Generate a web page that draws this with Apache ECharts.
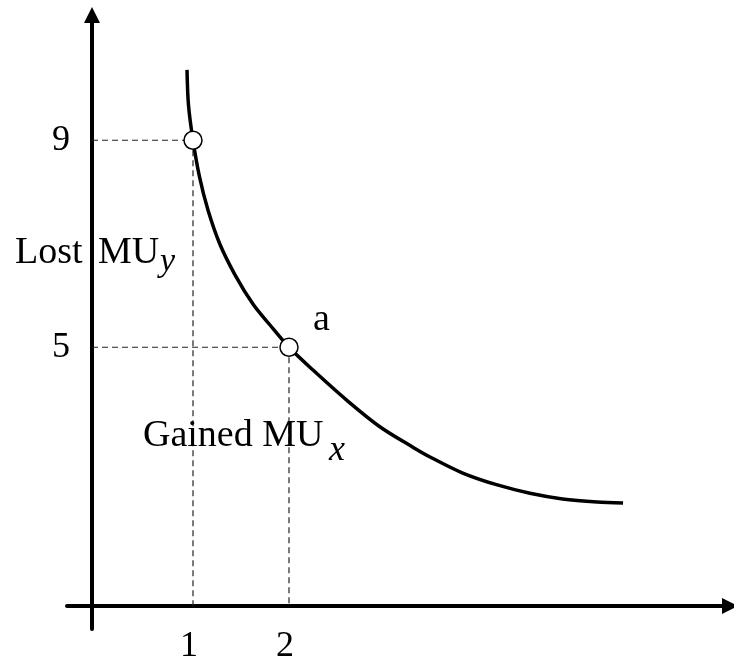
<!DOCTYPE html>
<html>
<head>
<meta charset="utf-8">
<script src="https://cdn.jsdelivr.net/npm/echarts@6/dist/echarts.min.js"></script>
<style>
html,body{margin:0;padding:0;background:#fff;}
#chart{width:734px;height:659px;}
</style>
</head>
<body>
<div id="chart"></div>
<script>
// Indifference-type curve
const curveX = [0.9375, 0.953, 1.0, 1.068, 1.156, 1.276, 1.4375, 1.63, 1.802, 2.0, 2.25, 2.60, 2.95, 3.29, 3.47, 3.81, 4.17, 4.51, 4.85, 5.21, 5.48];
const curveY = [10.36, 9.68, 9.0, 8.29, 7.65, 7.01, 6.40, 5.82, 5.43, 5.0, 4.56, 3.98, 3.46, 3.07, 2.88, 2.57, 2.34, 2.18, 2.07, 2.01, 1.99];
// Highlighted points
const pointX = [1, 2];
const pointY = [9, 5];
// Tick labels
const xTicks = [1, 2];
const yTicks = [5, 9];
// Axis ranges
const xRange = [-0.3125, 6.594];
const yRange = [-0.444, 11.42];
const yAxisCrossX = -0.052;

const FONT = 'Liberation Serif';
const chart = echarts.init(document.getElementById('chart'));

const series = [];
series.push({
  type: 'line',
  data: curveX.map((x, i) => [x, curveY[i]]),
  smooth: 0.3,
  showSymbol: false,
  lineStyle: { color: '#000', width: 3.5 },
  z: 3,
  silent: true
});
pointX.forEach((px, i) => {
  const py = pointY[i];
  series.push({
    type: 'line',
    data: [[yAxisCrossX, py], [px, py]],
    showSymbol: false,
    lineStyle: { color: '#222', width: 1.2, type: [6, 4] },
    z: 2,
    silent: true
  });
  series.push({
    type: 'line',
    data: [[px, py], [px, 0]],
    showSymbol: false,
    lineStyle: { color: '#222', width: 1.2, type: [6, 4] },
    z: 2,
    silent: true
  });
});
series.push({
  type: 'scatter',
  data: pointX.map((x, i) => [x, pointY[i]]),
  symbol: 'circle',
  symbolSize: 18,
  itemStyle: { color: '#fff', borderColor: '#000', borderWidth: 1.5, opacity: 1 },
  z: 5,
  silent: true
});

const txt = (text, x, y, size, italic) => ({
  type: 'text',
  x: x, y: y,
  style: {
    text: text,
    font: (italic ? 'italic ' : '') + size + 'px "' + FONT + '"',
    fill: '#000',
    align: 'left',
    verticalAlign: 'middle'
  },
  z: 10
});

chart.setOption({
  animation: false,
  backgroundColor: '#fff',
  grid: { left: 67, right: 4, top: 15, bottom: 30, containLabel: false, outerBoundsMode: 'none' },
  xAxis: {
    type: 'value',
    min: xRange[0], max: xRange[1],
    splitLine: { show: false },
    axisTick: { show: false },
    axisLine: {
      onZero: true,
      lineStyle: { color: '#000', width: 4 },
      symbol: ['none', 'triangle'],
      symbolSize: [16, 16]
    },
    axisLabel: {
      customValues: xTicks,
      fontFamily: FONT, fontSize: 36, color: '#000',
      margin: 0,
      padding: [0, 8, 0, 0]
    }
  },
  yAxis: {
    type: 'value',
    min: yRange[0], max: yRange[1],
    offset: -25,
    splitLine: { show: false },
    axisTick: { show: false },
    axisLine: {
      onZero: false,
      lineStyle: { color: '#000', width: 4 },
      symbol: ['none', 'triangle'],
      symbolSize: [16, 16]
    },
    axisLabel: {
      customValues: yTicks,
      fontFamily: FONT, fontSize: 36, color: '#000',
      margin: 22
    }
  },
  series: series,
  graphic: [
    txt('Lost', 15, 253, 38),
    txt('MU', 98, 253, 38),
    txt('y', 160, 262, 34, true),
    txt('Gained MU', 143, 436, 38),
    txt('x', 329, 451, 36, true),
    txt('a', 313, 320, 38)
  ]
});
</script>
</body>
</html>
